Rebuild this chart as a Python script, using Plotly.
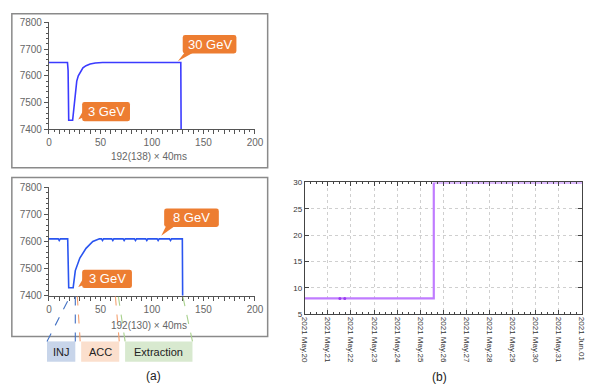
import plotly.graph_objects as go

W, H = 594, 391


def px(x):
    return x / W


def py(y):
    return 1 - y / H


# ---------------- data ----------------
# (a) top: 30 GeV cycle
top_t = [0, 18, 18.6, 19.2, 23, 24, 25.6, 27, 28.5, 30, 33, 36, 40, 45, 52, 128, 128.3]
top_v = [7650, 7650, 7620, 7433, 7433, 7470, 7535, 7580, 7600, 7612, 7630, 7638, 7644, 7648, 7650, 7650, 7400]

# (a) bottom: 8 GeV cycle
bot_t = [0, 9, 10, 11, 18.2, 19.2, 23.5, 25.6, 30, 36, 42.6, 49,
         51, 52, 53, 61, 62, 63, 72, 73, 74, 83, 84, 85, 94, 95, 96,
         105, 106, 107, 117, 118, 119, 129.5, 129.8]
bot_v = [7610, 7610, 7604, 7610, 7610, 7430, 7430, 7493, 7539, 7575, 7600, 7610,
         7610, 7604, 7610, 7610, 7604, 7610, 7610, 7604, 7610, 7610, 7604, 7610, 7610, 7604, 7610,
         7610, 7604, 7610, 7610, 7604, 7610, 7610, 7400]

a_xticks = list(range(0, 201, 10))
a_xticktext = [str(v) if v % 50 == 0 else "" for v in a_xticks]
a_yticks = [7400, 7500, 7600, 7700, 7800]

# (b) energy history
b_dates = ["2021-05-20 00:00", "2021-05-25 14:00", "2021-06-01 00:00"]
b_vals = [8, 30, 30]
b_dot_dates = ["2021-05-21 12:30", "2021-05-21 17:30"]
b_dot_vals = [8, 8]

fig = go.Figure()

fig.add_trace(go.Scatter(x=top_t, y=top_v, mode="lines", xaxis="x", yaxis="y",
                         line=dict(color="#3b3bff", width=1.6), showlegend=False))
fig.add_trace(go.Scatter(x=bot_t, y=bot_v, mode="lines", xaxis="x2", yaxis="y2",
                         line=dict(color="#2a55f0", width=1.6), showlegend=False))
fig.add_trace(go.Scatter(x=b_dates, y=b_vals, mode="lines", xaxis="x3", yaxis="y3",
                         line=dict(color="#c07cff", width=2.2, shape="hv"), showlegend=False))
fig.add_trace(go.Scatter(x=b_dot_dates, y=b_dot_vals, mode="markers", xaxis="x3", yaxis="y3",
                         marker=dict(color="#9a3cf0", size=3), showlegend=False))

afont = dict(family="Liberation Sans", size=10, color="#666666")
ax_common = dict(range=[0, 200], tickvals=a_xticks, ticktext=a_xticktext, ticks="outside",
                 ticklen=4, tickcolor="#555555", showline=True, linecolor="#555555",
                 linewidth=1, showgrid=False, zeroline=False, tickfont=afont,
                 minor=dict(dtick=5, ticks="outside", ticklen=2, tickcolor="#555555"))
ay_common = dict(range=[7400, 7800], tickvals=a_yticks, ticks="outside", ticklen=4,
                 tickcolor="#555555", showline=True, linecolor="#555555", linewidth=1,
                 showgrid=False, zeroline=False, tickfont=afont,
                 minor=dict(dtick=20, ticks="outside", ticklen=2, tickcolor="#555555"))

bfont = dict(family="Liberation Sans", size=8, color="#333333")

fig.update_layout(
    width=W, height=H, margin=dict(l=0, r=0, t=0, b=0),
    paper_bgcolor="white", plot_bgcolor="white",
    xaxis=dict(domain=[px(45), px(256)], anchor="y", **ax_common),
    yaxis=dict(domain=[py(127), py(17)], anchor="x", **ay_common),
    xaxis2=dict(domain=[px(45), px(256)], anchor="y2", **ax_common),
    yaxis2=dict(domain=[py(299), py(187)], anchor="x2", **ay_common),
    xaxis3=dict(domain=[px(307), px(591)], anchor="y3", type="date",
                range=["2021-05-20 00:00", "2021-06-01 00:00"],
                dtick=86400000, tick0="2021-05-20", tickformat="%Y %b.%d", tickangle=90,
                ticks="inside", ticklen=4, tickcolor="#444444",
                showline=True, linecolor="#444444", linewidth=1, mirror="allticks",
                showgrid=True, gridcolor="#cfcfcf", griddash="dot", gridwidth=1,
                zeroline=False, tickfont=bfont,
                minor=dict(dtick=6 * 3600 * 1000, ticks="inside", ticklen=2,
                           tickcolor="#444444", showgrid=False)),
    yaxis3=dict(domain=[py(318), py(182)], anchor="x3", range=[5, 30], dtick=5,
                ticks="inside", ticklen=4, tickcolor="#444444",
                showline=True, linecolor="#444444", linewidth=1, mirror="allticks",
                showgrid=True, gridcolor="#cfcfcf", griddash="dot", gridwidth=1,
                zeroline=False, tickfont=bfont),
)

shapes = []
# frames around panel (a) plots
for (x0, y0, x1, y1) in [(7, 8, 269, 167), (7, 177, 269, 341)]:
    shapes.append(dict(type="rect", xref="paper", yref="paper",
                       x0=px(x0), y0=py(y0), x1=px(x1), y1=py(y1),
                       line=dict(color="#8a8a8a", width=1.5), fillcolor="rgba(0,0,0,0)"))

ORANGE = "#ed7d31"


def rounded_rect(x0, y0, x1, y1, r=2.5):
    pts = (f"M {px(x0 + r)} {py(y0)} L {px(x1 - r)} {py(y0)} "
           f"Q {px(x1)} {py(y0)} {px(x1)} {py(y0 + r)} L {px(x1)} {py(y1 - r)} "
           f"Q {px(x1)} {py(y1)} {px(x1 - r)} {py(y1)} L {px(x0 + r)} {py(y1)} "
           f"Q {px(x0)} {py(y1)} {px(x0)} {py(y1 - r)} L {px(x0)} {py(y0 + r)} "
           f"Q {px(x0)} {py(y0)} {px(x0 + r)} {py(y0)} Z")
    return pts


callouts = [
    ((182, 30, 237, 49), ((184, 48), (193, 48), (177, 57)), "30 GeV"),
    ((79, 99, 128, 119), ((80, 108), (80, 115), (75, 117)), "3 GeV"),
    ((163, 209, 219, 228), ((165, 227), (174, 227), (160, 237)), "8 GeV"),
    ((79, 272, 130, 291), ((80, 281), (80, 288), (75, 290)), "3 GeV"),
]
annotations = []
for (bx0, by0, bx1, by1), (p1, p2, tip), txt in callouts:
    shapes.append(dict(type="path", xref="paper", yref="paper",
                       path=rounded_rect(bx0, by0, bx1, by1), fillcolor=ORANGE,
                       line=dict(width=0)))
    shapes.append(dict(type="path", xref="paper", yref="paper",
                       path=f"M {px(p1[0])} {py(p1[1])} L {px(tip[0])} {py(tip[1])} "
                            f"L {px(p2[0])} {py(p2[1])} Z",
                       fillcolor=ORANGE, line=dict(width=0)))
    annotations.append(dict(x=px((bx0 + bx1) / 2), y=py((by0 + by1) / 2), xref="paper",
                            yref="paper", text=txt, showarrow=False,
                            font=dict(family="Liberation Sans", size=13, color="white"),
                            xanchor="center", yanchor="middle"))

# phase label boxes
phase_boxes = [
    ((43, 346, 72, 367), "#c8d5ea", "INJ"),
    ((78, 346, 117, 367), "#fbdfcd", "ACC"),
    ((123, 346, 192, 367), "#d8e9cf", "Extraction"),
]
for (x0, y0, x1, y1), col, txt in phase_boxes:
    shapes.append(dict(type="rect", xref="paper", yref="paper",
                       x0=px(x0), y0=py(y0), x1=px(x1), y1=py(y1),
                       fillcolor=col, line=dict(width=0)))
    annotations.append(dict(x=px((x0 + x1) / 2), y=py((y0 + y1) / 2), xref="paper",
                            yref="paper", text=txt, showarrow=False,
                            font=dict(family="Liberation Sans", size=11, color="#222222"),
                            xanchor="center", yanchor="middle"))

# dashed leader lines
leaders = [
    ((43, 346), (67, 299), "#4472c4"),
    ((72, 346), (72, 299), "#4472c4"),
    ((77, 346), (74, 299), "#f4a070"),
    ((117, 346), (113, 299), "#f4a070"),
    ((123, 346), (116, 299), "#a9d18e"),
    ((192, 346), (182, 299), "#a9d18e"),
]
for (a, b, col) in leaders:
    shapes.append(dict(type="line", xref="paper", yref="paper",
                       x0=px(a[0]), y0=py(a[1]), x1=px(b[0]), y1=py(b[1]),
                       line=dict(color=col, width=1.1, dash="dash")))

# axis titles and panel labels
for (x, y, txt, size, col) in [
    (147, 155, "192(138) × 40ms", 10, "#666666"),
    (147, 330, "192(130) × 40ms", 10, "#666666"),
    (152, 382, "(a)", 12, "#222222"),
    (445, 383, "(b)", 12, "#222222"),
]:
    annotations.append(dict(x=px(x), y=py(y), xref="paper", yref="paper", text=txt,
                            showarrow=False, xanchor="center", yanchor="middle",
                            font=dict(family="Liberation Sans", size=size, color=col)))

fig.update_layout(shapes=shapes, annotations=annotations)

fig.write_html("out.html", config={"displayModeBar": False},
               post_script="document.body.style.margin='0';")
